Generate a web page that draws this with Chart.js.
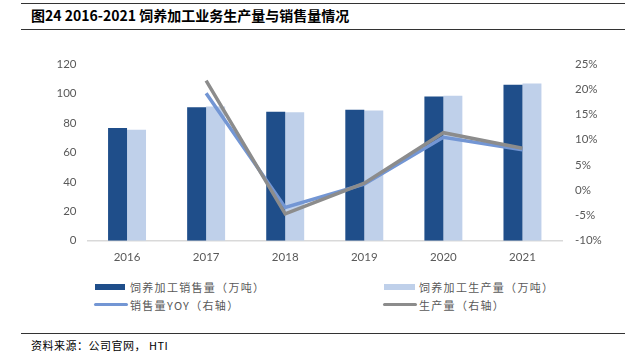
<!DOCTYPE html>
<html><head><meta charset="utf-8">
<script src="https://cdn.jsdelivr.net/npm/chart.js@4/dist/chart.umd.min.js"></script>
<style>
html,body{margin:0;padding:0;background:#fff;}
body{width:625px;height:356px;position:relative;overflow:hidden;font-family:"Noto Sans CJK SC","Lato",sans-serif;}
#title{position:absolute;left:31px;top:5px;font-size:14px;font-weight:bold;color:#000;white-space:nowrap;line-height:20px;}
.hl{position:absolute;left:21px;right:0;height:0;border-top:1.5px solid #333;}
#wrap{position:absolute;left:0;top:0;width:625px;height:270px;}
.lg{position:absolute;font-size:11px;letter-spacing:1.3px;color:#595959;white-space:nowrap;line-height:14px;}
.sw{position:absolute;}
#src{position:absolute;left:31px;top:337px;font-size:11px;letter-spacing:0.5px;color:#000;white-space:pre;line-height:16px;}
</style></head>
<body>
<div class="hl" style="top:3px"></div>
<div id="title">图24 2016-2021 饲养加工业务生产量与销售量情况</div>
<div class="hl" style="top:29px"></div>
<div id="wrap"><canvas id="c" width="625" height="270"></canvas></div>
<div class="sw" style="left:95px;top:284px;width:30px;height:6px;background:#1F4E8A"></div>
<div class="lg" style="left:130px;top:280px">饲养加工销售量（万吨）</div>
<div class="sw" style="left:384px;top:284px;width:31px;height:6px;background:#BFD0EA"></div>
<div class="lg" style="left:419px;top:280px">饲养加工生产量（万吨）</div>
<div class="sw" style="left:94px;top:302.5px;width:34px;height:3.5px;border-radius:2px;background:#7396D4"></div>
<div class="lg" style="left:130px;top:298px">销售量YOY（右轴）</div>
<div class="sw" style="left:383px;top:302.5px;width:34px;height:3.5px;border-radius:2px;background:#8C8C8C"></div>
<div class="lg" style="left:419px;top:298px">生产量（右轴）</div>
<div class="hl" style="top:333px"></div>
<div id="src">资料来源：公司官网， HTI</div>
<script>
const categories = ["2016","2017","2018","2019","2020","2021"];
const salesVolume = [76.5, 90.7, 87.5, 88.9, 98.0, 105.9];
const productionVolume = [75.3, 91.1, 87.3, 88.4, 98.5, 106.8];
const salesYoY = [null, 19.2, -3.4, 1.2, 10.5, 8.0];
const productionYoY = [null, 21.7, -4.7, 1.4, 11.4, 8.3];
const leftTicks = [0, 20, 40, 60, 80, 100, 120];
const rightTicks = [-10, -5, 0, 5, 10, 15, 20, 25];

const tickFont = {family: "Lato", size: 11.5};
const tickColor = "#595959";

new Chart(document.getElementById("c"), {
  data: {
    labels: categories,
    datasets: [
      {type: "bar", label: "饲养加工销售量（万吨）", data: salesVolume, backgroundColor: "#1F4E8A", yAxisID: "y", order: 2, categoryPercentage: 0.48, barPercentage: 1.0},
      {type: "bar", label: "饲养加工生产量（万吨）", data: productionVolume, backgroundColor: "#BFD0EA", yAxisID: "y", order: 2, categoryPercentage: 0.48, barPercentage: 1.0},
      {type: "line", label: "销售量YOY（右轴）", data: salesYoY, borderColor: "#7396D4", borderWidth: 3.5, pointRadius: 0, tension: 0, yAxisID: "y2", order: 1, borderCapStyle: "butt"},
      {type: "line", label: "生产量（右轴）", data: productionYoY, borderColor: "#8C8C8C", borderWidth: 3.5, pointRadius: 0, tension: 0, yAxisID: "y2", order: 0, borderCapStyle: "butt"}
    ]
  },
  options: {
    responsive: false,
    animation: false,
    layout: {padding: {top: 64, left: 0, right: 0, bottom: 0}},
    plugins: {legend: {display: false}, tooltip: {enabled: false}},
    scales: {
      x: {
        grid: {display: false, drawTicks: false},
        border: {display: true, color: "#D9D9D9", width: 1.5},
        ticks: {font: tickFont, color: tickColor, padding: 10, maxRotation: 0},
        afterFit: s => { s.height = 29.3; }
      },
      y: {
        position: "left", min: 0, max: 120,
        afterBuildTicks: s => { s.ticks = leftTicks.map(v => ({value: v})); },
        grid: {display: false, drawTicks: false},
        border: {display: false},
        ticks: {font: tickFont, color: tickColor, padding: 11},
        afterFit: s => { s.width = 87.5; }
      },
      y2: {
        position: "right", min: -10, max: 25,
        afterBuildTicks: s => { s.ticks = rightTicks.map(v => ({value: v})); },
        grid: {display: false, drawTicks: false},
        border: {display: false},
        ticks: {font: tickFont, color: tickColor, padding: 13, callback: v => v + "%"},
        afterFit: s => { s.width = 63; }
      }
    }
  }
});
</script>
</body></html>
